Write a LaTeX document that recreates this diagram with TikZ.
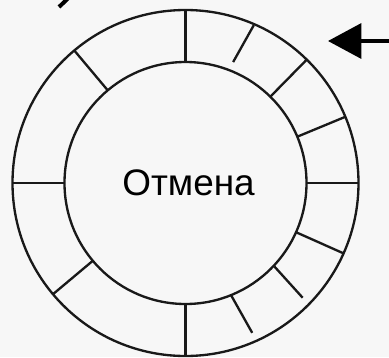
\documentclass[tikz,border=0pt]{standalone}
\usepackage{fontspec}
\setmainfont{Liberation Sans}
\usetikzlibrary{arrows.meta}

\begin{document}
\begin{tikzpicture}[x=0.3mm,y=0.3mm, line width=0.7mm,
  ring/.style={draw=black!90},
  spoke/.style={draw=black!90}]
\useasboundingbox[fill=black!3] (-185.5,-174) rectangle (203.5,183);
\draw[ring] (0,0) circle[radius=173];
\draw[ring] (0,0) circle[radius=121];
\foreach \a in {0,22.5,45.5,90,130,180,220,270,336} {
  \draw[spoke] (\a:121) -- (\a:173);
}
\draw[spoke] (68.5:130) -- (66.6:172);
\draw[spoke] (-43.2:122) -- (-44.4:164);
\draw[spoke] (-67.9:121) -- (-66:164);
\node[font=\fontsize{31.5}{38}\selectfont] (label) at (3,0) {Отмена};
\coordinate (arrowtail) at (210,142);
\coordinate (arrowtip) at (142.5,142);
\draw[line width=1mm, -{Triangle[length=10mm,width=10.5mm]}] (arrowtail) -- (arrowtip);
\draw[line width=1.2mm] (-116,186) -- (-126.5,176);
\end{tikzpicture}
\end{document}
